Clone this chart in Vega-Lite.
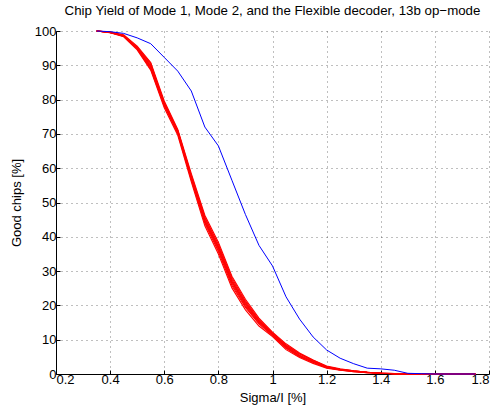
{
  "$schema": "https://vega.github.io/schema/vega-lite/v6.json",
  "width": 433,
  "height": 343,
  "autosize": {"type": "none"},
  "padding": {"left": 56, "top": 31, "right": 11, "bottom": 34},
  "background": "white",
  "title": {"text": "Chip Yield of Mode 1, Mode 2, and the Flexible decoder, 13b op\u2212mode", "font": "Liberation Sans", "fontSize": 13.3, "fontWeight": "normal", "color": "#000", "offset": 8, "anchor": "middle"},
  "config": {
    "view": {"stroke": null},
    "axis": {"labelFont": "Liberation Sans", "titleFont": "Liberation Sans", "labelFontSize": 13, "titleFontSize": 13, "titleFontWeight": "normal", "labelColor": "#000", "titleColor": "#000", "domainColor": "#000", "tickColor": "#000", "gridColor": "#000", "gridOpacity": 0.5, "gridDash": [1, 4], "gridWidth": 1, "tickSize": -4, "domainWidth": 1}
  },
  "data": {"values": [
    {"x": 0.35, "blue": 100, "r1": 100, "r2": 100, "r3": 100, "r4": 100, "r5": 100, "r6": 100, "r7": 100, "r8": 100},
    {"x": 0.40, "blue": 99.8, "r1": 99.7, "r2": 99.5, "r3": 99.6, "r4": 99.6, "r5": 99.7, "r6": 99.5, "r7": 99.6, "r8": 99.6},
    {"x": 0.45, "blue": 99.3, "r1": 98.9, "r2": 98.3, "r3": 98.7, "r4": 98.5, "r5": 98.6, "r6": 98.6, "r7": 98.7, "r8": 98.5},
    {"x": 0.50, "blue": 98.0, "r1": 95.6, "r2": 94.5, "r3": 95.2, "r4": 94.8, "r5": 95.1, "r6": 94.9, "r7": 95.0, "r8": 95.3},
    {"x": 0.55, "blue": 96.3, "r1": 90.8, "r2": 88.6, "r3": 90.6, "r4": 88.9, "r5": 89.8, "r6": 89.3, "r7": 89.6, "r8": 90.2},
    {"x": 0.60, "blue": 92.3, "r1": 79.6, "r2": 77.6, "r3": 78.8, "r4": 78.1, "r5": 78.9, "r6": 78.4, "r7": 78.6, "r8": 79.2},
    {"x": 0.65, "blue": 88.3, "r1": 71.3, "r2": 69.6, "r3": 70.9, "r4": 70.1, "r5": 70.6, "r6": 70.3, "r7": 70.8, "r8": 71.0},
    {"x": 0.70, "blue": 82.5, "r1": 58.4, "r2": 56.0, "r3": 57.3, "r4": 56.6, "r5": 57.7, "r6": 56.8, "r7": 57.2, "r8": 57.9},
    {"x": 0.75, "blue": 72.0, "r1": 46.3, "r2": 43.2, "r3": 44.9, "r4": 43.9, "r5": 45.4, "r6": 44.3, "r7": 44.7, "r8": 45.8},
    {"x": 0.80, "blue": 66.5, "r1": 38.4, "r2": 35.0, "r3": 36.9, "r4": 35.7, "r5": 37.3, "r6": 36.2, "r7": 36.8, "r8": 37.8},
    {"x": 0.85, "blue": 56.5, "r1": 28.5, "r2": 25.1, "r3": 27.0, "r4": 25.8, "r5": 27.5, "r6": 26.3, "r7": 26.8, "r8": 28.0},
    {"x": 0.90, "blue": 46.5, "r1": 21.8, "r2": 18.7, "r3": 20.6, "r4": 19.4, "r5": 20.9, "r6": 19.8, "r7": 20.2, "r8": 21.3},
    {"x": 0.95, "blue": 37.5, "r1": 16.3, "r2": 14.0, "r3": 15.4, "r4": 14.6, "r5": 15.6, "r6": 14.9, "r7": 15.2, "r8": 15.9},
    {"x": 1.00, "blue": 31.5, "r1": 12.2, "r2": 10.9, "r3": 11.6, "r4": 11.1, "r5": 11.9, "r6": 11.4, "r7": 11.5, "r8": 12.0},
    {"x": 1.05, "blue": 22.5, "r1": 8.8, "r2": 7.1, "r3": 8.1, "r4": 7.5, "r5": 8.3, "r6": 7.7, "r7": 7.9, "r8": 8.5},
    {"x": 1.10, "blue": 16.0, "r1": 6.1, "r2": 4.8, "r3": 5.5, "r4": 5.0, "r5": 5.8, "r6": 5.2, "r7": 5.4, "r8": 5.9},
    {"x": 1.15, "blue": 10.8, "r1": 4.1, "r2": 3.1, "r3": 3.7, "r4": 3.4, "r5": 3.9, "r6": 3.4, "r7": 3.6, "r8": 4.0},
    {"x": 1.20, "blue": 7.0, "r1": 2.3, "r2": 1.7, "r3": 2.0, "r4": 1.9, "r5": 2.1, "r6": 1.8, "r7": 1.9, "r8": 2.2},
    {"x": 1.25, "blue": 4.6, "r1": 1.5, "r2": 1.1, "r3": 1.3, "r4": 1.2, "r5": 1.4, "r6": 1.2, "r7": 1.3, "r8": 1.4},
    {"x": 1.30, "blue": 3.0, "r1": 0.9, "r2": 0.7, "r3": 0.8, "r4": 0.8, "r5": 0.9, "r6": 0.7, "r7": 0.8, "r8": 0.9},
    {"x": 1.35, "blue": 1.7, "r1": 0.5, "r2": 0.4, "r3": 0.5, "r4": 0.4, "r5": 0.5, "r6": 0.4, "r7": 0.5, "r8": 0.5},
    {"x": 1.40, "blue": 1.5, "r1": 0.3, "r2": 0.2, "r3": 0.2, "r4": 0.2, "r5": 0.2, "r6": 0.2, "r7": 0.2, "r8": 0.3},
    {"x": 1.45, "blue": 1.1, "r1": 0.1, "r2": 0.1, "r3": 0.1, "r4": 0.1, "r5": 0.1, "r6": 0.1, "r7": 0.1, "r8": 0.1},
    {"x": 1.50, "blue": 0.2, "r1": 0, "r2": 0.1, "r3": 0, "r4": 0, "r5": 0, "r6": 0.1, "r7": 0, "r8": 0},
    {"x": 1.55, "blue": 0.1, "r1": 0, "r2": 0, "r3": 0, "r4": 0, "r5": 0, "r6": 0, "r7": 0, "r8": 0},
    {"x": 1.60, "blue": 0, "r1": 0, "r2": 0, "r3": 0, "r4": 0, "r5": 0, "r6": 0, "r7": 0, "r8": 0},
    {"x": 1.65, "blue": 0, "r1": 0, "r2": 0, "r3": 0, "r4": 0, "r5": 0, "r6": 0, "r7": 0, "r8": 0},
    {"x": 1.70, "blue": 0, "r1": 0, "r2": 0, "r3": 0, "r4": 0, "r5": 0, "r6": 0, "r7": 0, "r8": 0},
    {"x": 1.75, "blue": 0, "r1": 0, "r2": 0, "r3": 0, "r4": 0, "r5": 0, "r6": 0, "r7": 0, "r8": 0}
  ]},
  "transform": [{"fold": ["r1", "r2", "r3", "r4", "r5", "r6", "r7", "r8", "blue"], "as": ["series", "y"]}],
  "encoding": {
    "x": {"field": "x", "type": "quantitative", "scale": {"domain": [0.2, 1.8], "nice": false, "zero": false}, "axis": {"values": [0.2, 0.4, 0.6, 0.8, 1.0, 1.2, 1.4, 1.6, 1.8], "format": "~g", "title": "Sigma/I [%]", "labelPadding": 3, "titlePadding": 5, "grid": true}},
    "y": {"field": "y", "type": "quantitative", "scale": {"domain": [0, 100], "nice": false}, "axis": {"values": [0, 10, 20, 30, 40, 50, 60, 70, 80, 90, 100], "title": "Good chips [%]", "labelPadding": 4, "titlePadding": 11, "grid": true}}
  },
  "layer": [
    {"transform": [{"filter": "datum.series != 'blue'"}], "mark": {"type": "line", "color": "#ff0000", "strokeWidth": 1.1}, "encoding": {"detail": {"field": "series"}}},
    {"transform": [{"filter": "datum.series == 'blue'"}], "mark": {"type": "line", "color": "#0000ff", "strokeWidth": 1}, "encoding": {}}
  ]
}
